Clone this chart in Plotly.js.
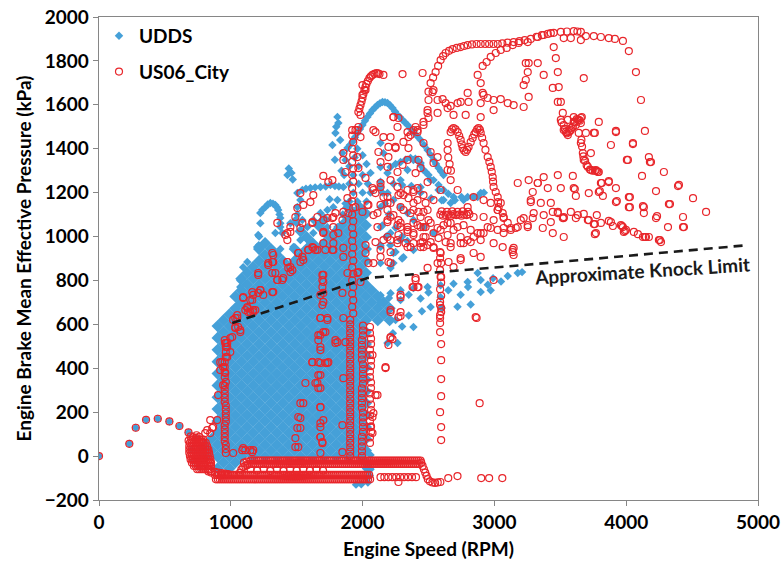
<!DOCTYPE html>
<html>
<head>
<meta charset="utf-8">
<script src="https://cdn.plot.ly/plotly-3.0.1.min.js"></script>
<style>html,body{margin:0;padding:0;background:#fff;}#chart{width:784px;height:571px;}</style>
</head>
<body>
<div id="chart"></div>
<script>
// ---------------- DATA ----------------
// Idle / launch points shared by both cycles [rpm, kPa]
const launchPts = [[0,0],[230,56],[279,129],[357,165],[446,170],[534,158],[610,137],[679,108],[737,83]];

// UDDS dense core: one kPa level per row, rpm values read across that row
const uddsCoreKpa = [-56,-29,-2,25,52,79,106,133,160,187,214,241,268,295,322,349,376,403,430,457,484,511,538,565,592,619,646,673,700,727,754,781,808,835,862,889,916,943,970,997,1024,1051,1078,1105,1132];
const coreE = [900,990,1080,1170,1260,1350,1440,1530,1620,1710,1800,1890,1980];
const coreO = [945,1035,1125,1215,1305,1395,1485,1575,1665,1755,1845,1935,2025];
const uddsCoreRows = [
  [900,990,2040],
  [945,1035,2025],
  [810,900,990,1080,1170,1260,1350,1440,1530,1620,1710,1800,1890,1980],
  [765,855,945,1035,1125,1215,1305,1395,1485,1575,1665,1755,1845,1935,2025],
  [810,900,990,1080,1170,1260,1350,1440,1530,1620,1710,1800,1890,1980],
  [855,945,1035,1125,1215,1305,1395,1485,1575,1665,1755,1845,1935,2025],
  coreE, coreO, coreE, coreO, coreE, coreO, coreE, coreO, coreE, coreO,
  coreE, coreO, coreE, coreO, coreE, coreO, coreE, coreO, coreE,
  [945,1035,1125,1215,1305,1395,1485,1575,1665,1755,1845,1935,2025,2115,2205],
  [990,1080,1170,1260,1350,1440,1530,1620,1710,1800,1890,1980,2070,2160],
  [1035,1125,1215,1305,1395,1485,1575,1665,1755,1845,1935,2025,2115,2205],
  [1080,1170,1260,1350,1440,1530,1620,1710,1800,1890,1980,2070,2160],
  [1035,1125,1215,1305,1395,1485,1575,1665,1755,1845,1935,2025,2115],
  [1080,1170,1260,1350,1440,1530,1620,1710,1800,1890,1980,2070],
  [1125,1215,1305,1395,1485,1575,1665,1755,1845,1935,2025],
  [1080,1170,1260,1350,1440,1530,1620,1710,1800,1890,1980],
  [1125,1215,1305,1395,1485,1575,1665,1755,1845,1935,2025],
  [1170,1260,1350,1440,1530,1620,1710,1800,1890,1980],
  [1215,1305,1395,1485,1575,1665,1755,1845,1935,2025],
  [1260,1350,1530,1620,1710,1800,1890,1980],
  [1215,1305,1485,1575,1665,1755,1845,1935,2025],
  [1260,1620,1710,1800,1890,1980],
  [1575,1755,1845,1935,2025],
  [1530,1710,1800,1890,1980],
  [1665,1845,1935,2025],
  [1710,1890,1980],
  [1935,2025],
  [1890,1980]
];

// UDDS sparse points [rpm, kPa]
const uddsPts = [
  [700,30],[720,-20],[760,-50],[2040,-120],[2055,-90],[2060,-60],[2060,-30],[2060,5],[1990,-128],[1950,-130],
  [2136,733],[2212,742],[2288,755],[2386,765],[2493,770],[2592,778],[2690,785],[2797,793],[2896,802],[2990,810],[3101,820],[3177,834],[3210,838],
  [2136,700],[2288,711],[2440,718],[2592,724],[2744,735],[2896,747],[2972,755],
  [2200,720],[2350,735],[2500,745],[2650,755],[2800,770],[2950,780],[3050,795],
  [2250,620],[2350,640],[2386,588],[2450,660],[2516,679],[2600,675],[2720,680],[2820,690],
  [2189,515],[2265,515],[2230,560],[2300,590],
  [2136,879],[2212,857],[2310,906],[2234,879],[2873,834],
  [2136,1250],[2150,1200],[2170,1150],[2200,1100],[2150,1050],[2180,1000],[2210,960],[2250,930],[2300,900],[2136,960],[2250,1040],[2300,1000],[2340,980],
  [2136,1426],[2158,1380],[2136,1317],[2189,1289],[2288,1257],[2341,1303],[2386,1349],[2440,1335],[2478,1294],[2516,1257],[2576,1212],[2614,1166],
  [2136,1226],[2189,1198],[2234,1166],[2288,1134],[2341,1107],[2386,1075],[2462,1043],[2538,1016],[2136,1134],[2136,1043],[2212,1016],[2288,984],[2386,939],[2136,952],[2234,925],
  [2440,1200],[2520,1175],[2600,1165],[2668,1153],[2700,1165],[2766,1166],[2842,1180],[2896,1198],[2920,1200],
  [2212,1317],[2250,1330],[2288,1340],[2326,1350],[2364,1358],[2400,1355],[2420,1345],[2440,1325],[2462,1303],[2500,1280],[2538,1257],[2576,1235],[2614,1212],[2650,1195],[2690,1180],[2750,1180],[2797,1180],[2873,1180],
  [2234,1240],[2300,1235],[2370,1230],[2440,1225],
  [1885,1403],[1904,1417],[1923,1431],[1942,1452],[1961,1472],[1980,1490],[1999,1508],[2018,1527],[2037,1545],[2056,1561],[2075,1576],[2094,1588],[2113,1599],[2132,1607],[2151,1613],[2170,1612],[2189,1608],[2208,1598],[2227,1585],[2246,1570],[2265,1554],[2284,1543],[2303,1531],[2322,1520],[2341,1508],[2363,1492],[2386,1476],[2413,1458],[2440,1440],[2466,1417],[2493,1394],[2516,1372],[2538,1349],[2557,1330],[2576,1312],[2595,1296],[2614,1280],
  [1809,1545],[1816,1517],[1800,1500],[1794,1472],[1830,1440],[1771,1417],[1847,1380],[1790,1350],[1870,1349],[1840,1300],[1860,1280],
  [1900,1160],[1960,1160],[2030,1160],[1930,1200],[2000,1200],[2060,1200],[1900,1240],[1970,1240],[2040,1240],[1930,1280],[2000,1280],[2060,1290],[1900,1320],[1970,1320],[2030,1330],[1940,1360],[2000,1370],[1960,1400],
  [1224,952],[1262,975],[1338,1016],[1452,1061],[1490,1075],[1543,1075],[1581,1043],[1626,1075],[1680,1107],[1733,1121],[1778,1134],[1809,1166],[1626,1016],[1733,1043],[1809,1043],[1528,984],[1604,970],[1475,952],[1376,943],[1300,948],[1850,1100],[1870,1150],[1750,1170],
  [1208,1007],[1200,952],[1125,884],[1094,860],[1072,800],[1087,802],[1056,688],[1072,770],[1040,720],
  [1212,960],[1215,1000],[1224,1061],[1224,1107],[1240,1122],[1262,1134],[1280,1146],[1300,1153],[1320,1150],[1338,1144],[1350,1133],[1360,1121],[1370,1100],[1376,1084],[1376,1060],[1376,1043],[1391,1016],
  [1430,1280],[1440,1310],[1460,1290],[1470,1260],
  [1505,1198],[1528,1166],[1543,1212],[1570,1218],[1604,1221],[1640,1224],[1680,1226],[1720,1228],[1756,1235],[1790,1230],[1820,1228],[1854,1226],[1505,1135],[1505,1100],[1500,1060]
];

// US06_City idle blob near 750 rpm: one kPa level per row, rpm values along it
const us06BlobKpa = [75, 60, 45, 30, 15, 0, -15, -30, -45, -60];
const us06BlobRows = [
  [700,715,730,745,760,775,790],
  [690,705,720,735,750,765,780,795,810],
  [685,700,715,730,745,760,775,790,805,820],
  [685,700,715,730,745,760,775,790,805,820,830],
  [685,700,715,730,745,760,775,790,805,820,835],
  [690,705,720,735,750,765,780,795,810,825,840],
  [695,710,725,740,755,770,785,800,815,830,845],
  [705,720,735,750,765,780,795,810,825,840,850],
  [720,735,750,765,780,795,810,825,840,850],
  [745,760,775,790,805,820,840]
];
// other points around the blob and up the left edge of the cloud
const us06Blob = [
  [680,70],[695,90],[740,95],[760,88],[785,65],[830,-70],[850,-75],
  [844,164],[897,164],[859,128],[821,118],[806,105],[904,278],[942,323],[866,132],[844,105],[714,87],
  [830,-62],[855,-70],[880,-72],[905,-75],[930,-78],[955,-80],[980,-82]
];

// US06_City: hook, upper arc and inner arc
const us06Arc = [
  [1968,1567],[1976,1583],[1984,1599],[1992,1615],[1999,1631],[2006,1649],[2014,1667],[2022,1681],[2029,1695],[2040,1708],[2052,1722],[2063,1730],[2075,1736],[2090,1741],[2105,1745],[2117,1743],[2128,1740],
  [2500,1660],[2516,1699],[2535,1725],[2554,1749],[2573,1777],[2592,1804],[2611,1822],[2630,1836],[2656,1846],[2683,1854],[2714,1859],[2744,1863],[2770,1868],[2797,1872],[2830,1875],[2865,1877],[2896,1877],[2930,1877],[2960,1877],[2993,1877],[3025,1877],[3060,1880],[3100,1883],[3146,1886],[3190,1890],[3230,1895],[3276,1900],[3320,1910],[3360,1917],[3405,1923],[3450,1928],[3504,1932],[3550,1934],[3602,1936],[3630,1934],[3656,1932],
  [3526,1904],[3580,1904],[3656,1895],[3694,1913],[3754,1913],[3808,1909],[3868,1904],[3914,1900],[3975,1891],[4020,1845],[4074,1749],[4112,1622],
  [2911,1777],[2941,1795],[2972,1818],[3010,1836],[3048,1850],[3093,1859],[3139,1872],[3184,1882],[3253,1886],[3329,1909],[3374,1918],[3428,1927]
];

// US06_City: scattered points 900-2600 rpm
const us06Mid = [
  [1999,1690],[2022,1667],[1999,1645],[1968,1499],[1946,1485],[2082,1485],[2234,1544],[2272,1540],[2265,1499],[2386,1485],[2500,1622],[2493,1563],[2462,1522],[1984,1453],[1961,1362],[1854,1380],[1854,1349],[1870,1294],[1968,1312],[2022,1267],
  [2120,1385],[2196,1408],[2250,1403],[2196,1362],[2136,1339],[2189,1317],[2265,1294],[2310,1431],[2364,1462],[2417,1485],[2348,1403],[2424,1349],[2341,1349],[2303,1326],[2402,1289],[2440,1312],[2493,1248],[2417,1221],[2341,1212],[2265,1226],
  [2212,1257],[2136,1244],[2075,1221],[2098,1198],[2189,1180],[2272,1189],[2348,1175],[2386,1153],[2478,1153],[2424,1112],[2364,1107],[2272,1075],[2189,1121],[2136,1144],[2037,1144],[1999,1112],[1702,1276],[1771,1257],[1885,1175],[1946,1134],
  [1892,1107],[1854,1112],[1778,1089],[1847,1075],[1778,1043],[1816,1016],[1733,1084],[1657,1089],[1619,1066],[1626,948],[1657,939],[1588,939],[1702,970],[1702,1016],[1778,970],[1854,948],[1771,939],[1854,907],[2022,961],[2044,879],
  [2022,925],[1968,838],[1984,793],[1885,834],[2098,975],[2136,939],[2212,929],[2196,884],[2158,984],[2113,1043],[2189,1075],[2082,1098],[2189,998],[2265,984],[2326,970],[2364,952],[2440,970],[2493,961],[2478,998],[2440,1043],
  [2386,1062],[2288,1043],[2341,1021],[2272,1007],[2386,1007],[2478,1043],[2500,1075],[2402,802],[2386,770],[2424,770],[2288,734],[2212,665],[2288,656],[2212,538],[1626,1189],[1528,1198],[1505,1130],[1490,1089],[1543,1062],[1452,1043],
  [1429,1016],[1353,1062],[1208,834],[1284,879],[1315,925],[1322,884],[1429,884],[1452,861],[1452,838],[1398,811],[1353,802],[1512,925],[1543,907],[1528,884],[1315,834],[1224,756],[1163,747],[1163,711],[1110,665],[1132,656],
  [1170,665],[1056,588],[1018,620],[1034,583],[1011,542],[1072,565],[973,515],[973,451],[935,428],[920,392],[958,378],[1702,825],[1702,793],[1695,770],[1702,743],[1733,620],[1664,551],[1702,565],[1619,428],[1733,424],
  [1794,515],[1854,629],[2212,542],[2174,405],[1961,834],[1847,743],
  [1984,1554],[1961,1485],[2098,1476],[2212,1453],[2250,1408],[2348,1453],[2417,1476],[2462,1426],[2493,1576],[2500,1540],[2569,1563],[2645,1585],[2690,1554],[2782,1554],[2896,1544],[2896,1608],[2918,1645],[2994,1576],[2630,1608],[2569,1622],[2721,1608],[2797,1654],[2531,1658],
  [2158,1736],[2303,1740],[2455,1745],[2538,1667],[2607,1626],[2668,1595],[2744,1613],[2804,1613],[2234,1544],[2158,1453],[2341,1476],[2402,1499],[2462,1508],
  [2538,1335],[2569,1362],[2516,1385],[2645,1303],[2668,1257],[2721,1212],[2592,1212],[2538,1166],[2493,1121],[2440,1089],[2417,1166],[2386,1212],[2288,1198],[2288,1134],[2212,1153],[2158,1180],[2136,1226],[2082,1212],[2044,1144],[2113,1107],
  [2212,1089],[2288,1062],[2341,1030],[2386,1016],[2462,998],[2538,1016],[2592,1030],[2645,1062],[2690,1030],[2744,998],[2797,984],[2842,998],[2896,1016],[2949,1043],[2994,1075],[3025,1121],[2918,1089],[2842,1089],[2766,970],[2668,970],
  [2592,925],[2569,879],[2538,952],[2440,952],[2386,970],[2341,952],[2265,970],[2212,984],[2212,879],[2136,907],[2082,879],[2842,925],[2896,907],[2744,893],[2690,861],[2592,816],
  [2310,1189],[2386,1203],[2462,1189],[2462,1112],[2386,1121],[2310,1121],[2189,1153],[2234,1098],[2189,1066],[2265,1052],[2341,1043],[2417,1052],[2462,1043],[2516,1062],[2569,1039],[2614,1052],[2668,1062],[2721,1043],[2766,1052],[2820,1030],
  [2873,1016],[2918,1016],[2972,1039],[3025,1030],[3070,1039],[3124,1030],[3177,1043],[3253,1043],[3298,1107],[3222,1084],[3276,1157],[3329,1244],[3177,1244],[2972,1153],[2918,1166],[2842,1180],[2797,1134],[3025,1121],[3070,1089],[3146,948],
  [3139,929],[3146,916],[2994,970],[2896,984],[2820,975],[2744,970],[2668,952],[2630,975],[2645,1007],[2576,993],[2516,975],[2455,975],[2462,952],[2538,948],[2652,884],[2744,902],[2493,857],[2402,811],[2379,770],[2417,770],
  [2288,724],[2212,656],[2272,633],[2994,802],[2858,633],[2865,629],[2888,241],[2288,638],[2227,533],[2196,506],
  [2590,1100],[2610,1095],[2630,1098],[2650,1100],[2670,1095],[2690,1102],[2710,1098],[2730,1100],[2750,1095],[2770,1100],[2790,1098],[2810,1102],[2600,1115],[2640,1112],[2680,1115],[2720,1112],[2760,1115],[2800,1112],
  [1740,1248],[1550,1144],[1604,1157],[1619,1062],[1528,1039],[1452,1021],[1414,1007],[1429,984],[1794,1107],[1771,1084],[1702,1075],[1702,1021],[1778,1007],[1619,952],[1588,939],[1642,939],[1718,939],[1778,939],[1512,925],[1550,893],
  [1429,884],[1436,857],[1467,847],[1322,916],[1315,884],[1284,870],[1208,825],[1338,834],[1353,802],[1391,802],[1695,825],[1695,802],[1680,734],[1702,702],[1695,688],[1224,756],[1170,734],[1246,734],[1322,747],[1094,724],
  [1125,674],[1148,656],[1186,665],[1049,642],[1034,629],[1680,629],[1733,629],
  [1208,743],[1315,747],[1094,720],[1148,711],[1125,679],[1170,656],[1049,629],[1034,588],[1072,574],[996,538],[958,515],[973,497],[996,474],[920,428],[942,405],
  [1718,565],[1664,528],[1680,483],[1619,428],[1664,428],[1718,424],[1740,428],[1664,369],[1664,310],[1566,333],[1642,333],[1680,223],[1528,241],[1550,241],[1512,178],[1528,173],[1505,128],[1490,82],[1490,41],[1680,132],
  [1680,87],[1695,59],[1702,164],[1847,141],[1847,18],[1809,519],[1794,528],[1870,519],[1854,355],[2174,401],[2098,278],[2075,178],[2060,132],[2075,105],[2075,460],[1094,36],[1148,27],[1163,18],[1018,14],[1087,27],
  [1110,27],[1170,27],[1657,333],[1680,310],[1528,128],[1512,41],[1680,150],[1695,64],[1680,14],[2113,278],[2082,196],[1680,629],[1680,551],[1680,497],[1680,424],[1680,369],[1680,223],[1680,87]
];

// US06_City: scattered points above 2600 rpm (incl. the "M" and "V" strings)
const us06High = [
  [2668,1476],[2678,1488],[2690,1494],[2705,1488],[2721,1476],[2733,1458],[2744,1440],[2752,1420],[2759,1403],[2770,1392],[2782,1385],[2793,1395],[2804,1408],[2820,1430],[2835,1449],[2847,1465],[2858,1476],[2869,1488],[2880,1494],[2890,1486],
  [2896,1472],[2907,1450],[2918,1426],[2932,1395],[2949,1362],[2962,1340],[2972,1317],[2980,1295],[2987,1271],[2990,1250],[2994,1226],[3010,1203],[3025,1180],[3028,1157],[3032,1134],[3048,1153],
  [2645,1426],[2645,1394],[2650,1360],[2660,1330],[2670,1300],
  [2873,1736],[2896,1699],[2911,1654],[2949,1631],[2994,1622],[3048,1626],[3101,1608],[3146,1599],[3222,1590],[3260,1636],[3222,1690],[3238,1713],[3253,1749],[3238,1790],[3260,1790],[3329,1790],[3374,1736],[3443,1677],[3481,1749],[3466,1813],
  [3450,1863],[3488,1681],[3481,1613],[3504,1613],[3678,1722],[3519,1563],[3557,1531],[3602,1544],[3656,1540],[3792,1522],[3922,1476],[4142,1481],[4051,1426],[3884,1417],[3754,1472],[3694,1472],[3732,1380],[4013,1349],[4172,1362],[4188,1339],
  [4286,1294],[4400,1235],[4507,1175],[4606,1112],[4431,1089],[4431,1043],[4324,1148],[4226,1207],[4226,1084],[4248,984],[4134,1134],[4127,998],[4020,1134],[4020,1180],[3922,1221],[3922,1157],[3868,1248],[3808,1244],[3792,1203],[3716,1198],
  [3602,1221],[3504,1221],[3405,1221],[3481,1280],[3374,1271],[3329,1244],[3260,1257],[3291,1203],[3276,1166],[3352,1153],[3428,1153],[3443,1112],[3481,1112],[3526,1084],[3580,1112],[3633,1098],[3709,1075],[3754,1057],[3770,1016],[3884,1066],
  [3975,1043],[3998,1030],[4058,1021],[4150,998],[3443,1016],[3526,998],
  [3504,1531],[3510,1520],[3526,1508],[3535,1490],[3542,1476],[3550,1470],[3557,1462],[3564,1476],[3572,1480],[3585,1495],[3595,1499],[3602,1522],[3610,1520],[3625,1535],[3633,1531],[3648,1528],[3656,1517],[3640,1472],[3656,1426],[3660,1440],
  [3665,1410],[3671,1380],[3675,1365],[3678,1349],[3688,1345],[3700,1325],[3709,1317],[3725,1305],[3732,1303],[3745,1300],[3762,1300],[3770,1303],[3778,1298],[3792,1294],[3526,1485],[3580,1485],[3618,1508],[3640,1531],[3663,1544],[3785,1294],
  [3762,1472],[3922,1481],[4051,1421],[4005,1349],[4180,1339],[3595,1276],[3868,1253],[3815,1244],[4120,1276],[4393,1230],[3610,1216],[3618,1185],[3800,1207],[3823,1185],[3929,1162],[4028,1180],[4028,1134],[4127,1139],[4332,1148],[4134,1107],
  [3678,1103],[3618,1084],[3777,1098],[3762,1057],[3808,1062],[3868,1071],[3899,1048],[3968,1048],[3990,1025],[4089,1011],[4142,998],[4172,998],[4234,1093],[4317,1043],[4438,1043],[3762,1011],[3526,1089],[4256,984],
  [3063,1107],[3070,1084],[3101,1062],[3070,1016],[3124,1039],[3162,1039],[3200,1075],[3253,1052],[3291,1084],[3374,1098],[3428,1066],[3367,1039],[3481,1107],[3519,1084],[3716,1075],[3960,1052],[3982,1021],[4264,975],[3063,952],[3139,939]
];

// US06_City: near-constant-speed columns (rpm, list of kPa)
const us06ColRpm = [958, 1910, 1925, 1999, 2060, 2592];
const us06ColKpa = [
  [14,32,50,68,86,104,122,140,158,176,194,212,230,248,266,284,302,320,338,360,383,405,428,451,474,497,515,528],
  [0,20,40,60,80,100,120,140,160,180,200,220,240,260,280,300,320,340,360,380,400,420,440,460,480,500,520,540,560,580,600,620],
  [650,680,710,740,770,800,830,860,890,920,950,980,1010,1040,1070,1100,1130,1160,1190,1220,1250,1280,1310,1340,1370,1400,1430,1460,1485],
  [0,22,44,66,88,110,132,154,176,198,220,242,264,286,308,330,352,374,396,418,440,462,484,506,528,550,572,594],
  [60,85,110,135,160,185,210,235,260,285,310,335,360,385,410,435,460,485,510,535,560,588],
  [73,132,200,273,351,437,510,565,606,629,642,656,674,688,702,730,760,790,816,847,879,902,929]
];

// US06_City: motoring / deceleration bands (kPa, list of rpm)
const us06BandKpa = [-20, -36, -86, -106];
const us06BandRpm = [
  [1150,1165,1180,1195,1210,1225,1240,1255,1270,1285,1300,1315,1330,1345,1360,1375,1390,1405,1420,1435,1450,1465,1480,1495,1510,1525,1540,1555,1570,1585,1600,1615,1630,1645,1660,1675,1690,1705,1720,1735,1750,1765,1780,1795,1810,1825,1840,1855,1870,1885,1900,1915,1930,1945,1960,1975,1990,2005,2020,2035,2050,2065,2080,2095,2110,2125,2140,2155,2170,2185,2200,2215,2230,2245,2260,2275,2290,2305,2320,2335,2350,2365,2380,2395,2410,2425,2440],
  [1127,1142,1157,1172,1187,1202,1217,1232,1247,1262,1277,1292,1307,1322,1337,1352,1367,1382,1397,1412,1427,1442,1457,1472,1487,1502,1517,1532,1547,1562,1577,1592,1607,1622,1637,1652,1667,1682,1697,1712,1727,1742,1757,1772,1787,1802,1817,1832,1847,1862,1877,1892,1907,1922,1937,1952,1967,1982,1997,2012,2027,2042,2057,2072,2087,2102,2117,2132,2147,2162,2177,2192,2207,2222,2237,2252,2267,2282,2297,2312,2327,2342,2357,2372,2387,2402,2417,2432],
  [880,895,910,925,940,955,970,985,1000,1015,1030,1045,1060,1075,1090,1105,1120,1135,1150,1165,1180,1195,1210,1225,1240,1255,1270,1285,1300,1315,1330,1345,1360,1375,1390,1405,1420,1435,1450,1465,1480,1495,1510,1525,1540,1555,1570,1585,1600,1615,1630,1645,1660,1675,1690,1705,1720,1735,1750,1765,1780,1795,1810,1825,1840,1855,1870,1885,1900,1915,1930,1945,1960,1975,1990,2005,2020,2035,2050],
  [887,902,917,932,947,962,977,992,1007,1022,1037,1052,1067,1082,1097,1112,1127,1142,1157,1172,1187,1202,1217,1232,1247,1262,1277,1292,1307,1322,1337,1352,1367,1382,1397,1412,1427,1442,1457,1472,1487,1502,1517,1532,1547,1562,1577,1592,1607,1622,1637,1652,1667,1682,1697,1712,1727,1742,1757,1772,1787,1802,1817,1832,1847,1862,1877,1892,1907,1922,1937,1952,1967,1982,1997,2012,2027,2042,2057]
];

// US06_City: other low-load points
const us06Low = [
  [1094,-50],[1110,-45],[1125,-42],[1080,-62],[1070,-75],[1100,-30],[1120,-25],
  [2445,-30],[2455,-45],[2465,-60],[2475,-75],[2485,-90],[2495,-105],[2510,-115],[2530,-120],[2550,-122],[2570,-120],[2590,-118],
  [2136,-96],[2165,-96],[2195,-96],[2225,-96],[2255,-96],[2285,-96],[2315,-96],[2345,-96],[2375,-96],[2405,-96],[2272,-118],[2650,-100],[2720,-91],[2900,-100],[2960,-100],[3060,-100],
  [1150,-60],[1200,-66],[1250,-60],[1300,-68],[1350,-62],[1400,-68],[1450,-62],[1500,-66],[1550,-60],[1600,-66],[1650,-62],[1700,-66]
];

// Approximate knock limit
const knockRpm = [1011, 1376, 1680, 1930, 2037, 2136, 2493, 3048, 4925];
const knockKpa = [606, 679, 743, 793, 811, 816, 834, 861, 961];

// ---------------- BUILD ----------------
const BLUE = '#45A0D8', RED = '#E8262B';
const FONT = 'Lato, "Open Sans", sans-serif';

const coreX = [], coreY = [];
uddsCoreRows.forEach((row, i) => row.forEach(r => { coreX.push(r); coreY.push(uddsCoreKpa[i]); }));

const uAll = launchPts.concat(uddsPts);
const sAll = launchPts.concat(us06Blob, us06Arc, us06Mid, us06High, us06Low);
const sX = sAll.map(p => p[0]), sY = sAll.map(p => p[1]);
us06BlobKpa.forEach((k, i) => us06BlobRows[i].forEach(r => { sX.push(r); sY.push(k); }));
us06ColRpm.forEach((r, i) => us06ColKpa[i].forEach(k => { sX.push(r + ((k / 10) % 2 < 1 ? -4 : 4)); sY.push(k); }));
us06BandKpa.forEach((k, i) => us06BandRpm[i].forEach(r => { sX.push(r); sY.push(k); }));

const traces = [
  {type:'scatter', mode:'markers', x:coreX, y:coreY, showlegend:false, legendgroup:'a', hoverinfo:'skip',
   marker:{symbol:'diamond', size:9.4, color:BLUE, line:{width:0}}},
  {type:'scatter', mode:'markers', name:'UDDS', x:uAll.map(p=>p[0]), y:uAll.map(p=>p[1]), legendgroup:'a',
   marker:{symbol:'diamond', size:6.5, color:BLUE, line:{width:0}}},
  {type:'scatter', mode:'markers', name:'US06_City', x:sX, y:sY, legendgroup:'b',
   marker:{symbol:'circle-open', size:7, color:RED, line:{width:1.2, color:RED}}},
  {type:'scatter', mode:'lines', x:knockRpm, y:knockKpa, showlegend:false, hoverinfo:'skip',
   line:{color:'#1a1a1a', width:2.6, dash:'9px,6px'}}
];

const tickFont = {family:FONT, size:19, color:'#000', weight:'bold'};
const layout = {
  width:784, height:571,
  margin:{l:99, r:26, t:17, b:71},
  paper_bgcolor:'#fff', plot_bgcolor:'#fff',
  showlegend:true,
  legend:{x:0.0, y:1.0, xanchor:'left', yanchor:'top', bgcolor:'rgba(0,0,0,0)',
          font:{family:FONT, size:19, color:'#000', weight:'bold'},
          traceorder:'grouped', tracegroupgap:8, itemsizing:'trace'},
  xaxis:{range:[0,5000], tickvals:[0,1000,2000,3000,4000,5000], ticks:'outside', ticklen:5, tickcolor:'#868686',
         showline:true, linecolor:'#868686', linewidth:1.3, mirror:true, showgrid:false, zeroline:false,
         tickfont:tickFont, title:{text:'Engine Speed (RPM)', font:tickFont, standoff:10}},
  yaxis:{range:[-200,2000], dtick:200, tick0:0, ticks:'outside', ticklen:5, tickcolor:'#868686',
         showline:true, linecolor:'#868686', linewidth:1.3, mirror:true, showgrid:false, zeroline:false,
         tickfont:tickFont, title:{text:'Engine Brake Mean Effective Pressure (kPa)', font:tickFont, standoff:8}},
  annotations:[{x:4119, y:847, xref:'x', yref:'y', text:'Approximate Knock Limit', showarrow:false,
                textangle:-3.5, font:{family:FONT, size:19, color:'#1a1a1a', weight:'bold'}}]
};

Plotly.newPlot('chart', traces, layout, {displayModeBar:false, staticPlot:true});
</script>
</body>
</html>
